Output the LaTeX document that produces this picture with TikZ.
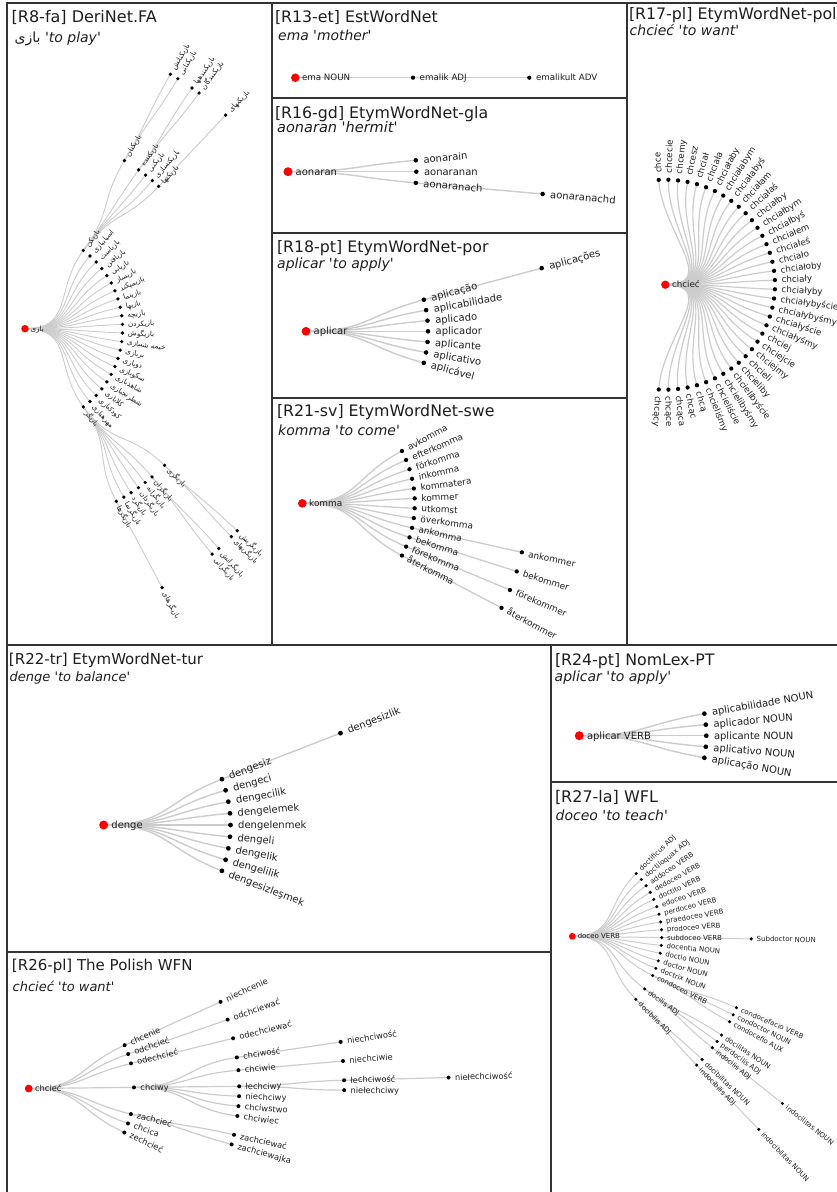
\documentclass[tikz,border=0pt]{standalone}
\usepackage{fontspec}
\newfontfamily\dv{DejaVu Sans}
\newfontfamily\farsi[Script=Arabic]{DejaVu Sans}
\TeXXeTstate=1
\usetikzlibrary{calc}
\pgfdeclarelayer{bg}
\pgfsetlayers{bg,main}
\definecolor{linkc}{HTML}{CCCCCC}
\definecolor{ink}{HTML}{1E1E1E}
\definecolor{frame}{HTML}{333333}
\newcommand\fa[1]{{\farsi\upshape\beginR #1\endR}}
\newcommand\labtxt[1]{\hspace*{.75em}\rule{0pt}{.73em}\smash{#1}}
\def\xs{1}\def\labsize{10}\def\dotd{4.6}\def\redd{9}\def\linkw{1.3}
\def\curroot{}
\newcommand\setroot[4]{%
  \node[rootdot] (#1) at (#2,#3) {};%
  \node[lab] (#1-l) at (#1.center) {\labtxt{#4}};%
  \def\curroot{#1}%
  \expandafter\gdef\csname A#1\endcsname{0}%
  \expandafter\gdef\csname R#1\endcsname{0}%
}
\newcommand\kid[6][]{%
  \edef\kpa{\csname A#3\endcsname}%
  \edef\kpr{\csname R#3\endcsname}%
  \pgfmathsetmacro\kidm{(\kpr+#5)/2}%
  \path ($(\curroot)+({\xs*(#5)*cos(#4)},{(#5)*sin(#4)})$) node[dot] (#2) {};%
  \begin{pgfonlayer}{bg}%
    \draw[link] (#3.center) .. controls ($(\curroot)+({\xs*\kidm*cos(\kpa)},{\kidm*sin(\kpa)})$) and ($(\curroot)+({\xs*\kidm*cos(#4)},{\kidm*sin(#4)})$) .. (#2.center);%
  \end{pgfonlayer}%
  \node[lab, rotate={-(#4)}, #1] (#2-l) at (#2.center) {\labtxt{#6}};%
  \expandafter\xdef\csname A#2\endcsname{#4}%
  \expandafter\xdef\csname R#2\endcsname{#5}%
}
\tikzset{
  dot/.style={circle, fill=black, draw=none, inner sep=0pt, minimum size=\dotd pt},
  rootdot/.style={circle, fill=red, draw=none, inner sep=0pt, minimum size=\redd pt},
  link/.style={draw=linkc, line width=\linkw pt},
  lab/.style={anchor=west, inner sep=0pt, text=ink, font=\dv\fontsize{\labsize}{\labsize}\selectfont},
  ttl/.style={anchor=base west, inner sep=0pt, text=ink, font=\dv\fontsize{#1}{#1}\selectfont},
  sub/.style={anchor=base west, inner sep=0pt, text=ink, font=\dv\itshape\fontsize{#1}{#1}\selectfont},
  panel/.style={draw=frame, line width=1.4pt}
}
\begin{document}
\begin{tikzpicture}[x=1pt,y=-1pt]
\useasboundingbox (0,0) rectangle (837,1192);
\begin{pgfonlayer}{bg}\fill[white] (0,0) rectangle (837,1192);\end{pgfonlayer}

% ---------------- R8 DeriNet.FA
\begin{scope}
\def\labsize{7.2}\def\dotd{3.7}\def\redd{7.5}\def\linkw{0.9}
\node[ttl=16] (T8) at (11.5,22.7) {[R8-fa] DeriNet.FA};
\node[sub=14] (S8) at (14.5,42.7) {\fa{بازی}\ 'to play'};
\setroot{fr}{25}{328.7}{\fa{بازی}}
\foreach [count=\i from 0] \w in {بازیکن, اسباببازی, بازیاست, بازیافتن, بازیابی, بازیساز, بازیمیکند, بازینما, بازیها, بازیچه, بازیکردن, بازیگوش, خیمه شببازی, بربازی, دوبازی, سکوبازی, شاهدبازی, شطرنجبازی, کلابازی, کودکبازی, مهرهبازی, بازیگر}{%
  \pgfmathsetmacro\ang{-53.3+5.076*\i}%
  \kid{f\i}{fr}{\ang}{97.6}{\fa{\w}}}
\kid{f22}{f0}{-59.4}{195.3}{\fa{بازیکنان}}
\kid{f23}{f0}{-54.4}{195.3}{\fa{بازیکننده}}
\kid{f24}{f0}{-51.85}{195.3}{\fa{بازیکنی}}
\kid{f25}{f0}{-49.3}{195.3}{\fa{بازیکنسازی}}
\kid{f26}{f0}{-46.8}{195.3}{\fa{بازیکنها}}
\kid{f27}{f22}{-60.25}{293}{\fa{بازیکنانش}}
\kid{f28}{f22}{-58.55}{293}{\fa{بازیکنانی}}
\kid{f29}{f23}{-55.25}{293}{\fa{بازیکنندهها}}
\kid{f30}{f23}{-53.55}{293}{\fa{بازیکنندگان}}
\kid{f31}{f26}{-46.8}{293}{\fa{بازیکنهای}}
\kid{f32}{f21}{62.1}{195.3}{\fa{بازیگرها}}
\kid{f33}{f21}{59.6}{195.3}{\fa{بازیگرنما}}
\kid{f34}{f21}{57.1}{195.3}{\fa{بازیگرد}}
\kid{f35}{f21}{54.5}{195.3}{\fa{بازیگردان}}
\kid{f36}{f21}{52.0}{195.3}{\fa{بازیگرانه}}
\kid{f37}{f21}{49.4}{195.3}{\fa{بازیگران}}
\kid{f38}{f21}{44.4}{195.3}{\fa{بازیگری}}
\kid{f39}{f32}{62.1}{293}{\fa{بازیگرهای}}
\kid{f40}{f37}{50.3}{293}{\fa{بازیگرانی}}
\kid{f41}{f37}{48.6}{293}{\fa{بازیگرانش}}
\kid{f42}{f38}{45.2}{293}{\fa{بازیگریهای}}
\kid{f43}{f38}{43.6}{293}{\fa{بازیگریش}}
\end{scope}

% ---------------- R13 EstWordNet
\begin{scope}
\def\labsize{8.7}\def\dotd{4.2}\def\redd{8.5}\def\linkw{1.2}
\node[ttl=15.8] (T13) at (274.8,22.7) {[R13-et] EstWordNet};
\node[sub=13.9] (S13) at (278,40.7) {ema 'mother'};
\setroot{e0}{295.3}{77.7}{ema NOUN}
\kid{e1}{e0}{0}{117.7}{emalik ADJ}
\kid{e2}{e1}{0}{234}{emalikult ADV}
\end{scope}

% ---------------- R16 EtymWordNet-gla
\begin{scope}
\def\labsize{10}\def\dotd{4.5}\def\redd{9}\def\linkw{1.4}
\node[ttl=15.8] (T16) at (274.8,118.3) {[R16-gd] EtymWordNet-gla};
\node[sub=14.5] (S16) at (277,132.7) {aonaran 'hermit'};
\setroot{g0}{288}{171.7}{aonaran}
\kid{g1}{g0}{-5.1}{128.3}{aonarain}
\kid{g2}{g0}{0}{128.3}{aonaranan}
\kid{g3}{g0}{5.0}{128.3}{aonaranach}
\kid{g4}{g3}{5.0}{255.6}{aonaranachd}
\end{scope}

% ---------------- R18 EtymWordNet-por
\begin{scope}
\def\labsize{10}\def\dotd{4.6}\def\redd{8.8}\def\linkw{1.4}
\node[ttl=15.8] (T18) at (276.8,252.5) {[R18-pt] EtymWordNet-por};
\node[sub=14] (S18) at (277,268.5) {aplicar 'to apply'};
\setroot{p0}{306}{331.3}{aplicar}
\kid{p1}{p0}{-15}{122}{aplicação}
\kid{p2}{p0}{-10}{122}{aplicabilidade}
\kid{p3}{p0}{-5}{122}{aplicado}
\kid{p4}{p0}{0}{122}{aplicador}
\kid{p5}{p0}{5}{122}{aplicante}
\kid{p6}{p0}{10}{122}{aplicativo}
\kid{p7}{p0}{15}{122}{aplicável}
\kid{p8}{p1}{-15}{244}{aplicações}
\end{scope}

% ---------------- R21 EtymWordNet-swe
\begin{scope}
\def\labsize{8.9}\def\dotd{4.3}\def\redd{8.6}\def\linkw{1.3}
\node[ttl=15.8] (T21) at (276.8,416.7) {[R21-sv] EtymWordNet-swe};
\node[sub=14] (S21) at (278,435.7) {komma 'to come'};
\setroot{sr}{302.3}{503.3}{komma}
\foreach [count=\i from 0] \w in {avkomma,efterkomma,förkomma,inkomma,kommatera,kommer,utkomst,överkomma,ankomma,bekomma,förekomma,återkomma}{%
  \pgfmathsetmacro\ang{-27.7+5.036*\i}%
  \kid{s\i}{sr}{\ang}{112.5}{\w}}
\kid{s12}{s8}{12.588}{225}{ankommer}
\kid{s13}{s9}{17.624}{225}{bekommer}
\kid{s14}{s10}{22.66}{225}{förekommer}
\kid{s15}{s11}{27.696}{225}{återkommer}
\end{scope}

% ---------------- R17 EtymWordNet-pol
\begin{scope}
\def\labsize{8.7}\def\dotd{4.3}\def\redd{8.3}\def\linkw{1.2}\def\xs{1.045}
\node[ttl=15.8] (T17) at (628.8,19) {[R17-pl] EtymWordNet-pol};
\node[sub=14] (S17) at (629.5,35.7) {chcieć 'to want'};
\setroot{qr}{665.3}{284.7}{chcieć}
\foreach [count=\i from 0] \w in {chce,chcecie,chcemy,chcesz,chciał,chciała,chciałaby,chciałabym,chciałabyś,chciałam,chciałaś,chciałby,chciałbym,chciałbyś,chciałem,chciałeś,chciało,chciałoby,chciały,chciałyby,chciałybyście,chciałybyśmy,chciałyście,chciałyśmy,chciej,chciejcie,chciejmy,chcieli,chcieliby,chcielibyście,chcielibyśmy,chcieliście,chcieliśmy,chcą,chcąc,chcąca,chcące,chcący}{%
  \pgfmathsetmacro\ang{-93.43+5.05*\i}%
  \kid{q\i}{qr}{\ang}{105}{\w}}
\end{scope}

% ---------------- R22 EtymWordNet-tur
\begin{scope}
\def\labsize{10}\def\dotd{4.8}\def\redd{9}\def\linkw{1.4}
\node[ttl=15] (T22) at (8.8,664.3) {[R22-tr] EtymWordNet-tur};
\node[sub=13] (S22) at (9.5,681) {denge 'to balance'};
\setroot{tr}{103.7}{825}{denge}
\foreach [count=\i from 0] \w in {dengesiz,dengeci,dengecilik,dengelemek,dengelenmek,dengeli,dengelik,dengelilik,dengesizleşmek}{%
  \pgfmathsetmacro\ang{-21.2+5.3*\i}%
  \kid{t\i}{tr}{\ang}{126.8}{\w}}
\kid{t9}{t0}{-21.2}{254}{dengesizlik}
\end{scope}

% ---------------- R24 NomLex-PT
\begin{scope}
\def\labsize{10}\def\dotd{4.7}\def\redd{9}\def\linkw{1.4}
\node[ttl=15.8] (T24) at (554.8,665.7) {[R24-pt] NomLex-PT};
\node[sub=14] (S24) at (554.5,681.7) {aplicar 'to apply'};
\setroot{nr}{579.3}{735.7}{aplicar VERB}
\kid{n1}{nr}{-10}{127}{aplicabilidade NOUN}
\kid{n2}{nr}{-5}{127}{aplicador NOUN}
\kid{n3}{nr}{0}{127}{aplicante NOUN}
\kid{n4}{nr}{5}{127}{aplicativo NOUN}
\kid{n5}{nr}{10}{127}{aplicação NOUN}
\end{scope}

% ---------------- R27 WFL
\begin{scope}
\def\labsize{7}\def\dotd{3.4}\def\redd{6.8}\def\linkw{1.0}
\node[ttl=16] (T27) at (554.8,802.3) {[R27-la] WFL};
\node[sub=14] (S27) at (555.5,820) {doceo 'to teach'};
\setroot{wr}{572.3}{936.3}{doceo VERB}
\foreach [count=\i from 0] \w in {doctificus ADJ,doctiloquax ADJ,addoceo VERB,dedoceo VERB,doctito VERB,edoceo VERB,perdoceo VERB,praedoceo VERB,prodoceo VERB,subdoceo VERB,docentia NOUN,doctio NOUN,doctor NOUN,doctrix NOUN,condoceo VERB}{%
  \pgfmathsetmacro\ang{-44.5+5.036*\i}%
  \kid{w\i}{wr}{\ang}{89.5}{\w}}
\kid{w15}{wr}{36.0}{89.5}{docilis ADJ}
\kid{w16}{wr}{44.75}{89.5}{docibilis ADJ}
\kid{w17}{w9}{0.824}{179}{Subdoctor NOUN}
\kid{w18}{w14}{23.5}{179}{condocefacio VERB}
\kid{w19}{w14}{26.0}{179}{condoctor NOUN}
\kid{w20}{w14}{28.5}{179}{condocefio AUX}
\kid{w21}{w15}{33.5}{179}{docilitas NOUN}
\kid{w22}{w15}{36.0}{179}{perdocilis ADJ}
\kid{w23}{w15}{38.5}{179}{indocilis ADJ}
\kid{w24}{w16}{43.5}{179}{docibilitas NOUN}
\kid{w25}{w16}{46.0}{179}{indocibilis ADJ}
\kid{w26}{w23}{38.5}{268.5}{indocilitas NOUN}
\kid{w27}{w25}{46.0}{268.5}{indocibilitas NOUN}
\end{scope}

% ---------------- R26 The Polish WFN
\begin{scope}
\def\labsize{8.3}\def\dotd{4}\def\redd{7.8}\def\linkw{1.2}
\node[ttl=15] (T26) at (11.8,970.7) {[R26-pl] The Polish WFN};
\node[sub=13] (S26) at (12.5,991.7) {chcieć 'to want'};
\setroot{cr}{28.7}{1088.5}{chcieć}
\kid{c1}{cr}{-24.3}{105.3}{chcenie}
\kid{c2}{cr}{-19.1}{105.3}{odchcieć}
\kid{c3}{cr}{-13.8}{105.3}{odechcieć}
\kid{c4}{cr}{-0.6}{105.3}{chciwy}
\kid{c5}{cr}{14.05}{105.3}{zachcieć}
\kid{c6}{cr}{19.4}{105.3}{chcica}
\kid{c7}{cr}{24.7}{105.3}{zechcieć}
\kid{c8}{c1}{-24.3}{210.5}{niechcenie}
\kid{c9}{c2}{-19.1}{210.5}{odchciewać}
\kid{c10}{c3}{-13.8}{210.5}{odechciewać}
\kid{c11}{c4}{-8.5}{210.5}{chciwość}
\kid{c12}{c4}{-5.0}{210.5}{chciwie}
\kid{c13}{c4}{-0.6}{210.5}{łechciwy}
\kid{c14}{c4}{2.1}{210.5}{niechciwy}
\kid{c15}{c4}{4.8}{210.5}{chciwstwo}
\kid{c16}{c4}{7.5}{210.5}{chciwiec}
\kid{c17}{c5}{12.7}{210.5}{zachciewać}
\kid{c18}{c5}{15.4}{210.5}{zachciewajka}
\kid{c19}{c11}{-8.5}{315.5}{niechciwość}
\kid{c20}{c12}{-5.0}{315.5}{niechciwie}
\kid{c21}{c13}{-1.5}{315.5}{łechciwość}
\kid{c22}{c13}{0.3}{315.5}{niełechciwy}
\kid{c23}{c21}{-1.5}{420}{niełechciwość}
\end{scope}

% ---------------- panel frames
\draw[panel] (7,3) rectangle (272,645);
\draw[panel] (272,3) rectangle (627,98);
\draw[panel] (272,98) rectangle (627,233);
\draw[panel] (272,233) rectangle (627,398);
\draw[panel] (272,398) rectangle (627,645);
\draw[panel] (627,3) rectangle (845,645);
\draw[panel] (7,645) rectangle (551,952);
\draw[panel] (551,645) rectangle (845,782);
\draw[panel] (551,782) rectangle (845,1200);
\draw[panel] (7,952) rectangle (551,1200);
\end{tikzpicture}
\end{document}
